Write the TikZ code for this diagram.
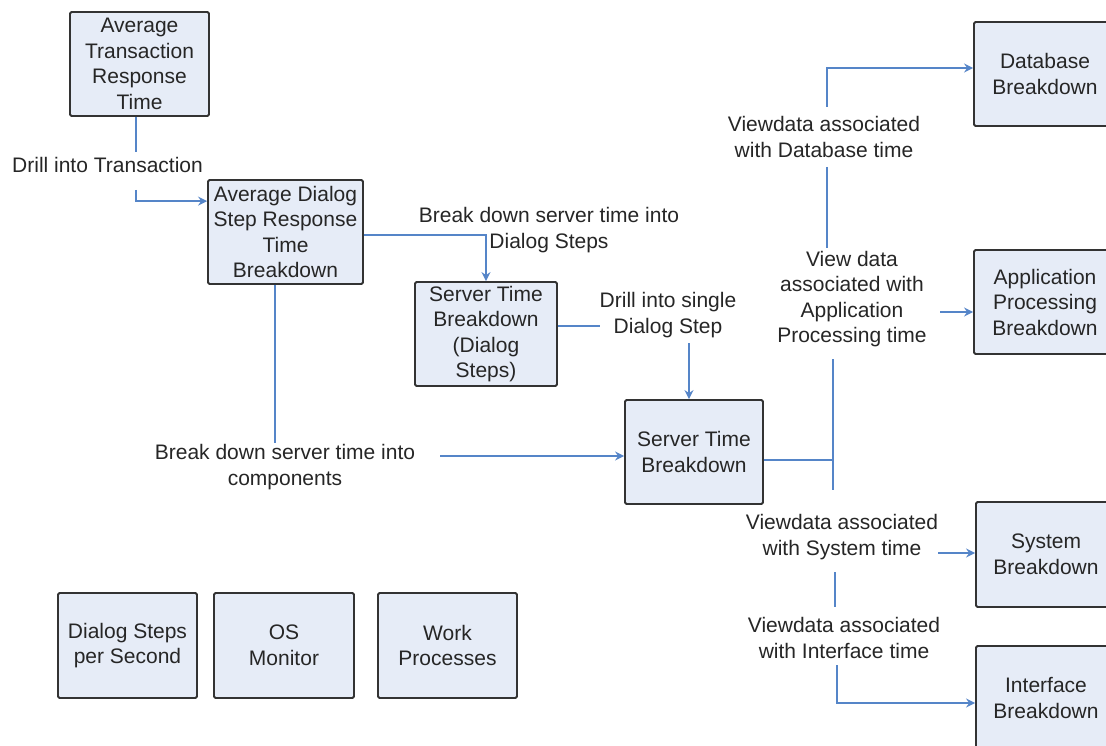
\documentclass[tikz,border=0pt]{standalone}
\usepackage{fontspec}
\setmainfont{Liberation Sans}
\usetikzlibrary{arrows.meta,calc}
\definecolor{boxfill}{HTML}{E6ECF7}
\definecolor{boxline}{HTML}{333333}
\definecolor{connc}{HTML}{5585C8}
\begin{document}
\begin{tikzpicture}[x=1pt,y=-1pt,
  txt/.style={font=\fontsize{21}{25.5}\selectfont, align=center, inner sep=0pt, text=black!85},
  box/.style={txt, draw=boxline, line width=1.8pt, fill=boxfill, rounded corners=1.5pt},
  conn/.style={draw=connc, line width=1.6pt},
  arr/.style={conn, -{Stealth[length=9pt,width=9pt,inset=3pt]}}]
\clip (0,0) rectangle (1106,746);
\fill[white] (0,0) rectangle (1106,746);
% boxes
\node[box, minimum width=139pt, minimum height=104pt] (b1) at (139.5,64) {Average\\Transaction\\Response\\Time};
\node[box, minimum width=155pt, minimum height=104pt] (b2) at (285.5,232) {Average Dialog\\Step Response\\Time\\Breakdown};
\node[box, minimum width=142pt, minimum height=104pt] (b3) at (486,334) {Server Time\\Breakdown\\(Dialog\\Steps)};
\node[box, minimum width=138pt, minimum height=104pt] (b4) at (694,452) {Server Time\\Breakdown};
\node[box, minimum width=142pt, minimum height=104pt] (db) at (1045,74) {Database\\Breakdown};
\node[box, minimum width=142pt, minimum height=104pt] (app) at (1045,302) {Application\\Processing\\Breakdown};
\node[box, minimum width=140pt, minimum height=105pt] (sys) at (1046,554.5) {System\\Breakdown};
\node[box, minimum width=140pt, minimum height=104pt] (if) at (1046,698) {Interface\\Breakdown};
\node[box, minimum width=139pt, minimum height=105pt] (dsps) at (127.5,645.5) {Dialog Steps\\per Second};
\node[box, minimum width=140pt, minimum height=105pt] (os) at (284,645.5) {OS\\Monitor};
\node[box, minimum width=139pt, minimum height=105pt] (wp) at (447.5,645.5) {Work\\Processes};
% labels
\node[txt] (l1) at (107.5,165) {Drill into Transaction};
\node[txt] (l2) at (549,230) {Break down server time into\\Dialog Steps};
\node[txt] (l3) at (668,315) {Drill into single\\Dialog Step};
\node[txt] (l4) at (285,467) {Break down server time into\\components};
\node[txt] (ldb) at (824,137) {Viewdata associated\\with Database time};
\node[txt] (lapp) at (852,299) {View data\\associated with\\Application\\Processing time};
\node[txt] (lsys) at (842,537) {Viewdata associated\\with System time};
\node[txt] (lif) at (844,638) {Viewdata associated\\with Interface time};
% free ends
\coordinate (c1a) at (136,152);
\coordinate (c1b) at (136,190);
\coordinate (c3a) at (600,326);
\coordinate (c3b) at (689,343);
\coordinate (c4a) at (275,443);
\coordinate (c4b) at (440,456);
\coordinate (J) at (833,460);
\coordinate (t1) at (833,359);
\coordinate (t2) at (833,490);
\coordinate (d1) at (827,107);
\coordinate (d2) at (827,167);
\coordinate (d3) at (827,248);
\coordinate (a1) at (940,312);
\coordinate (s1) at (938,553);
\coordinate (s2) at (835,572);
\coordinate (s3) at (835,607);
\coordinate (i1) at (837,665);
% connectors
\draw[conn] (c1a |- b1.south) -- (c1a);
\draw[arr] (c1b) |- ([yshift=-22pt]b2.north west);
\draw[arr] ([yshift=-3pt]b2.east) -| (b3.north);
\draw[conn] ([yshift=8pt]b3.east) -- (c3a);
\draw[arr] (c3b) -- (c3b |- b4.north);
\draw[conn] (c4a |- b2.south) -- (c4a);
\draw[arr] (c4b) -- (c4b -| b4.west);
\draw[conn] ([yshift=-8pt]b4.east) -- (J);
\draw[conn] (t1) -- (t2);
\draw[arr] (d1) |- ([yshift=6pt]db.west);
\draw[conn] (d2) -- (d3);
\draw[arr] (a1) -- (a1 -| app.west);
\draw[arr] (s1) -- (s1 -| sys.west);
\draw[conn] (s2) -- (s3);
\draw[arr] (i1) |- ([yshift=-5pt]if.west);
\end{tikzpicture}
\end{document}
